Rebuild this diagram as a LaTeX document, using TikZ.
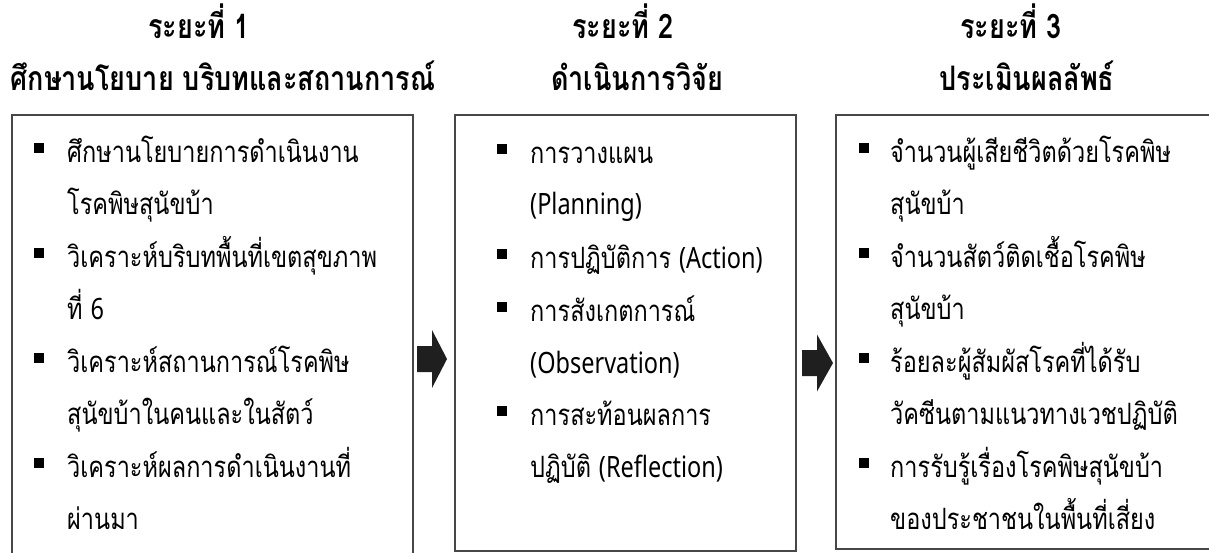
\documentclass[tikz,border=0pt]{standalone}
\usepackage{graphicx}
\usepackage{fontspec}
\newfontfamily\thai[Script=Thai]{Loma}
\newfontfamily\latn{Noto Sans}
\newcommand\stretchy[1]{\scalebox{1}[1.25]{#1}}
\begin{document}
\begin{tikzpicture}[x=1pt,y=-1pt,
  boxline/.style={draw=black!72,line width=1.3pt},
  ttl/.style={font=\thai\bfseries\fontsize{27}{30}\selectfont,anchor=base,inner sep=0pt},
  ln/.style={font=\thai\fontsize{23.5}{27}\selectfont,anchor=base west,inner sep=0pt},
  bul/.style={fill=black,minimum size=10pt,inner sep=0pt,anchor=center},
  blk/.style={fill=black!88}]
\useasboundingbox (0,0) rectangle (1209,552);
% titles
\node[ttl] (t1a) at (199,38) {\stretchy{ระยะที่ 1}};
\node[ttl] (t1b) at (223,90) {\stretchy{ศึกษานโยบาย บริบทและสถานการณ์}};
\node[ttl] (t2a) at (623,38) {\stretchy{ระยะที่ 2}};
\node[ttl] (t2b) at (637,90) {\stretchy{ดำเนินการวิจัย}};
\node[ttl] (t3a) at (1011,38) {\stretchy{ระยะที่ 3}};
\node[ttl] (t3b) at (1027,90) {\stretchy{ประเมินผลลัพธ์}};
% boxes
\draw[boxline] (12,575) -- (12,115) -- (413,115) -- (413,575);
\draw[boxline] (455,115) rectangle (796,551);
\draw[boxline] (1220,549) -- (836,549) -- (836,115) -- (1220,115);
% box 1 text
\node[bul] (b11) at (39,148) {};
\node[ln] (l11) at (67,162) {\stretchy{ศึกษานโยบายการดำเนินงาน}};
\node[ln] (l12) at (67,214) {\stretchy{โรคพิษสุนัขบ้า}};
\node[bul] (b12) at (39,253) {};
\node[ln] (l13) at (67,267) {\stretchy{วิเคราะห์บริบทพื้นที่เขตสุขภาพ}};
\node[ln] (l14) at (67,319) {\stretchy{ที่ {\latn 6}}};
\node[bul] (b13) at (39,358) {};
\node[ln] (l15) at (67,372) {\stretchy{วิเคราะห์สถานการณ์โรคพิษ}};
\node[ln] (l16) at (67,424) {\stretchy{สุนัขบ้าในคนและในสัตว์}};
\node[bul] (b14) at (39,463) {};
\node[ln] (l17) at (67,477) {\stretchy{วิเคราะห์ผลการดำเนินงานที่}};
\node[ln] (l18) at (67,529) {\stretchy{ผ่านมา}};
% box 2 text
\node[bul] (b21) at (502,149) {};
\node[ln] (l21) at (530,163) {\stretchy{การวางแผน}};
\node[ln] (l22) at (530,214) {\stretchy{\latn (Planning)}};
\node[bul] (b22) at (502,254) {};
\node[ln] (l23) at (530,268) {\stretchy{การปฏิบัติการ {\latn (Action)}}};
\node[bul] (b23) at (502,307) {};
\node[ln] (l24) at (530,321) {\stretchy{การสังเกตการณ์}};
\node[ln] (l25) at (530,373) {\stretchy{\latn (Observation)}};
\node[bul] (b24) at (502,411) {};
\node[ln] (l26) at (530,425) {\stretchy{การสะท้อนผลการ}};
\node[ln] (l27) at (530,477) {\stretchy{ปฏิบัติ {\latn (Reflection)}}};
% box 3 text
\node[bul] (b31) at (864,148) {};
\node[ln] (l31) at (890,162) {\stretchy{จำนวนผู้เสียชีวิตด้วยโรคพิษ}};
\node[ln] (l32) at (890,214) {\stretchy{สุนัขบ้า}};
\node[bul] (b32) at (864,253) {};
\node[ln] (l33) at (890,267) {\stretchy{จำนวนสัตว์ติดเชื้อโรคพิษ}};
\node[ln] (l34) at (890,319) {\stretchy{สุนัขบ้า}};
\node[bul] (b33) at (864,358) {};
\node[ln] (l35) at (890,372) {\stretchy{ร้อยละผู้สัมผัสโรคที่ได้รับ}};
\node[ln] (l36) at (890,424) {\stretchy{วัคซีนตามแนวทางเวชปฏิบัติ}};
\node[bul] (b34) at (864,463) {};
\node[ln] (l37) at (890,477) {\stretchy{การรับรู้เรื่องโรคพิษสุนัขบ้า}};
\node[ln] (l38) at (890,529) {\stretchy{ของประชาชนในพื้นที่เสี่ยง}};
% block arrows
\coordinate (a1) at (417,359);
\coordinate (a2) at (802,363);
\fill[blk] (a1) ++(0,-13) -- ++(15,0) -- ++(0,-16) -- ++(15,29) -- ++(-15,29) -- ++(0,-16) -- ++(-15,0) -- cycle;
\fill[blk] (a2) ++(0,-13) -- ++(15,0) -- ++(0,-15.5) -- ++(16,28.5) -- ++(-16,28.5) -- ++(0,-15.5) -- ++(-15,0) -- cycle;
\end{tikzpicture}
\end{document}
